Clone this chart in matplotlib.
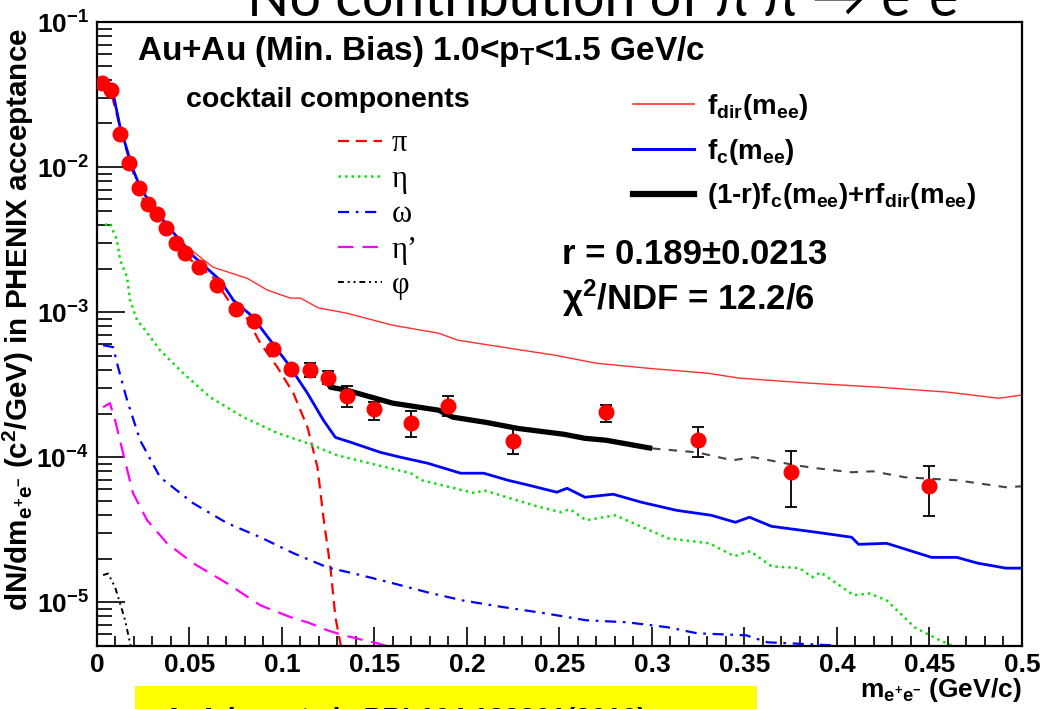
import numpy as np
import matplotlib

matplotlib.use("Agg")
import matplotlib.pyplot as plt
from matplotlib.lines import Line2D
from matplotlib.patches import Rectangle
from matplotlib.ticker import MultipleLocator, LogLocator, NullFormatter, FuncFormatter

plt.rcParams["font.family"] = ["Liberation Sans", "DejaVu Sans"]
plt.rcParams["font.weight"] = "bold"
plt.rcParams["axes.labelweight"] = "bold"
plt.rcParams["mathtext.fontset"] = "custom"
plt.rcParams["mathtext.rm"] = "Liberation Sans:bold"
plt.rcParams["mathtext.bf"] = "Liberation Sans:bold"
plt.rcParams["mathtext.it"] = "Liberation Sans:bold"
plt.rcParams["mathtext.default"] = "bf"

# --- measured e+e- pairs, Au+Au min. bias, 1.0 < pT < 1.5 GeV/c ---
data_m = [0.0025, 0.0075, 0.0125, 0.0175, 0.0225, 0.0275, 0.0325, 0.0375, 0.0425,
          0.0475, 0.055, 0.065, 0.075, 0.085, 0.095, 0.105, 0.115, 0.125, 0.135,
          0.15, 0.17, 0.19, 0.225, 0.275, 0.325, 0.375, 0.45]
data_y = [0.0380, 0.0340, 0.01689, 0.01066, 0.00716, 0.00556, 0.00474, 0.00380,
          0.00299, 0.00255, 0.00204, 0.00154, 0.00106, 0.000874, 0.000556,
          0.000405, 0.000398, 0.000350, 0.000263, 0.000214, 0.000172, 0.000225,
          0.000129, 0.000204, 0.000131, 7.88e-5, 6.31e-5]
data_lo = [0.0380, 0.0340, 0.01689, 0.01066, 0.00716, 0.00556, 0.00474, 0.00380,
           0.00299, 0.00255, 0.00204, 0.00154, 0.00106, 0.000874, 0.000556,
           0.000405, 0.000356, 0.000318, 0.000221, 0.000180, 0.000137, 0.000192,
           0.000105, 0.000174, 0.000100, 4.52e-5, 3.92e-5]
data_hi = [0.0380, 0.0340, 0.01689, 0.01066, 0.00716, 0.00556, 0.00474, 0.00380,
           0.00299, 0.00255, 0.00204, 0.00154, 0.00106, 0.000874, 0.000556,
           0.000405, 0.000445, 0.000392, 0.000309, 0.000239, 0.000207, 0.000264,
           0.000158, 0.000229, 0.000161, 1.10e-4, 8.67e-5]

# --- cocktail components ---
pi_m = [0.0027, 0.007, 0.0125, 0.0179, 0.0233, 0.0287, 0.0379, 0.0488, 0.0628,
        0.071, 0.0813, 0.0883, 0.0975, 0.1062, 0.1138, 0.1192, 0.1224, 0.1262,
        0.1289, 0.1316, 0.133]
pi_y = [0.0386, 0.0351, 0.0189, 0.01066, 0.00662, 0.00482, 0.00351, 0.00239,
        0.00174, 0.00121, 0.00090, 0.000611, 0.000418, 0.000276, 0.000161,
        8.53e-5, 3.86e-5, 1.74e-5, 7.88e-6, 5.21e-6, 3.0e-6]

eta_m = [0.0043, 0.007, 0.0108, 0.0125, 0.0163, 0.0179, 0.0217, 0.0249, 0.0341,
         0.0466, 0.0612, 0.0791, 0.0975, 0.1138, 0.13, 0.1517, 0.1696, 0.1755,
         0.2042, 0.2091, 0.2378, 0.2508, 0.2557, 0.2644, 0.2801, 0.3088, 0.331,
         0.3445, 0.3532, 0.3646, 0.3797, 0.3868, 0.3911, 0.409, 0.4177, 0.4269,
         0.442, 0.4556, 0.4642, 0.47]
eta_y = [0.00398, 0.00411, 0.00314, 0.00229, 0.00174, 0.00121, 0.000881, 0.000788,
         0.000547, 0.000380, 0.000259, 0.000189, 0.000147, 0.000125, 0.000103,
         8.81e-5, 7.76e-5, 6.94e-5, 5.65e-5, 5.92e-5, 4.59e-5, 4.18e-5, 4.38e-5,
         3.68e-5, 3.98e-5, 2.76e-5, 2.55e-5, 2.08e-5, 2.25e-5, 1.77e-5, 1.72e-5,
         1.49e-5, 1.61e-5, 1.12e-5, 1.15e-5, 1.03e-5, 6.72e-6, 5.47e-6, 4.9e-6, 3.0e-6]

omega_m = [0.0033, 0.0087, 0.0114, 0.0163, 0.0233, 0.0341, 0.052, 0.0704, 0.0883,
           0.1062, 0.1246, 0.1425, 0.1603, 0.1788, 0.1977, 0.2199, 0.2421, 0.2644,
           0.2866, 0.3088, 0.3245, 0.351, 0.3624, 0.3754, 0.3976, 0.41]
omega_y = [0.000592, 0.000574, 0.000418, 0.000247, 0.000131, 7.28e-5, 4.82e-5,
           3.51e-5, 2.81e-5, 2.18e-5, 1.74e-5, 1.54e-5, 1.35e-5, 1.17e-5, 1.03e-5,
           9.25e-6, 8.4e-6, 7.52e-6, 7.28e-6, 6.72e-6, 6.11e-6, 5.92e-6, 5.3e-6,
           5.21e-6, 5.05e-6, 4.0e-6]

etap_m = [0.0033, 0.007, 0.0098, 0.0141, 0.0195, 0.0271, 0.0379, 0.052, 0.0704,
          0.0883, 0.1062, 0.1138, 0.1246, 0.1333, 0.1517, 0.1587, 0.17]
etap_y = [0.000221, 0.000236, 0.000180, 0.000107, 5.65e-5, 3.68e-5, 2.55e-5,
          1.86e-5, 1.35e-5, 9.53e-6, 7.76e-6, 7.28e-6, 6.41e-6, 5.92e-6, 5.21e-6,
          4.9e-6, 3.5e-6]

phi_m = [0.0033, 0.006, 0.0098, 0.0125, 0.0152, 0.0179, 0.02]
phi_y = [1.54e-5, 1.58e-5, 1.27e-5, 9.84e-6, 7.52e-6, 5.21e-6, 3.5e-6]

# --- fit templates ---
fdir_m = [0.0033, 0.006, 0.0087, 0.0125, 0.0163, 0.019, 0.0233, 0.0287, 0.0341,
          0.0488, 0.0628, 0.0813, 0.0921, 0.1046, 0.11, 0.1197, 0.1349, 0.1598,
          0.1847, 0.195, 0.2226, 0.2476, 0.2698, 0.2974, 0.3299, 0.3472, 0.3852,
          0.4225, 0.4599, 0.4875, 0.4995]
fdir_y = [0.0368, 0.0386, 0.0324, 0.0189, 0.0131, 0.0100, 0.00735, 0.00575,
          0.00445, 0.00281, 0.00204, 0.00171, 0.00142, 0.00125, 0.00125, 0.00107,
          0.000985, 0.000813, 0.000716, 0.000641, 0.000565, 0.000505, 0.000445,
          0.000411, 0.000380, 0.000351, 0.000324, 0.000304, 0.000281, 0.000255,
          0.000268]

fc_m = [0.0033, 0.006, 0.0087, 0.0125, 0.0163, 0.019, 0.0233, 0.0287, 0.0358,
        0.0433, 0.0504, 0.0666, 0.0737, 0.0845, 0.0883, 0.103, 0.1138, 0.1224,
        0.1289, 0.137, 0.1533, 0.1641, 0.1788, 0.1966, 0.2091, 0.2221, 0.2335,
        0.2486, 0.2541, 0.2638, 0.279, 0.2942, 0.3131, 0.3321, 0.3451, 0.3527,
        0.3646, 0.3889, 0.4079, 0.4117, 0.4269, 0.4512, 0.4648, 0.4762, 0.4913,
        0.4995]
fc_y = [0.0368, 0.0386, 0.0324, 0.0189, 0.0131, 0.0100, 0.00728, 0.00565, 0.00431,
        0.00329, 0.00255, 0.00166, 0.00121, 0.000924, 0.000788, 0.000445,
        0.000276, 0.000180, 0.000137, 0.000127, 0.000108, 0.000100, 9.09e-5,
        7.76e-5, 7.76e-5, 6.94e-5, 6.41e-5, 5.74e-5, 6.11e-5, 5.30e-5, 5.56e-5,
        4.90e-5, 4.31e-5, 3.98e-5, 3.56e-5, 3.86e-5, 3.34e-5, 3.04e-5, 2.81e-5,
        2.51e-5, 2.55e-5, 2.04e-5, 2.04e-5, 1.86e-5, 1.72e-5, 1.72e-5]

# (1-r) f_c + r f_dir: fitted range and its extension
fit_m = [0.1235, 0.1262, 0.1349, 0.1598, 0.1847, 0.1923, 0.2102, 0.2275, 0.2524,
         0.2638, 0.2752, 0.3001]
fit_y = [0.000351, 0.000304, 0.000290, 0.000236, 0.000211, 0.000189, 0.000174,
         0.000158, 0.000144, 0.000135, 0.000131, 0.000115]
ext_m = [0.3001, 0.3245, 0.3434, 0.3548, 0.3776, 0.3889, 0.4079, 0.4193, 0.4366,
         0.4648, 0.4913, 0.4995]
ext_y = [0.000115, 0.000108, 9.53e-5, 1.0e-4, 8.81e-5, 8.40e-5, 7.88e-5, 8.0e-5,
         7.28e-5, 6.94e-5, 6.21e-5, 6.3e-5]

fig = plt.figure(figsize=(10.46, 7.09), dpi=100)
ax = fig.add_axes([0.0927, 0.0889, 0.8843, 0.880])

# cocktail components
l_pi, = ax.plot(pi_m, pi_y, color="#ff0000", lw=1.6, ls=(0, (5, 3)))
l_eta, = ax.plot(eta_m, eta_y, color="#11dd11", lw=1.8, ls=(0, (1, 1.6)))
l_om, = ax.plot(omega_m, omega_y, color="#0000ff", lw=1.6, ls=(0, (5, 3, 1.2, 3)))
l_etap, = ax.plot(etap_m, etap_y, color="#ff00ff", lw=1.6, ls=(0, (7, 4)))
l_phi, = ax.plot(phi_m, phi_y, color="black", lw=1.4, ls=(0, (3, 2, 1, 2, 1, 2)))

# templates and fit
l_fdir, = ax.plot(fdir_m, fdir_y, color="#ff3030", lw=1.0)
l_fc, = ax.plot(fc_m, fc_y, color="#0000ff", lw=2.0)
ax.plot(ext_m, ext_y, color="#444444", lw=1.5, ls=(0, (4, 4)))
l_fit, = ax.plot(fit_m, fit_y, color="black", lw=3.8, solid_capstyle="butt")

# data points
data_y = np.array(data_y)
yerr = [data_y - np.array(data_lo), np.array(data_hi) - data_y]
ax.errorbar(data_m, data_y, yerr=yerr, fmt="none", ecolor="black", elinewidth=1.3,
            capsize=4, capthick=1.3, zorder=4)
ax.plot(data_m, data_y, "o", color="#ff0000", ms=10.5, mec="#ff0000", zorder=5)

ax.set_yscale("log")
ax.set_xlim(0, 0.5)
ax.set_ylim(5e-6, 0.1)

ax.xaxis.set_major_locator(MultipleLocator(0.05))
ax.xaxis.set_minor_locator(MultipleLocator(0.01))
ax.xaxis.set_major_formatter(FuncFormatter(lambda v, p: f"{v:g}"))
ax.yaxis.set_major_locator(LogLocator(base=10, numticks=10))
ax.yaxis.set_minor_locator(LogLocator(base=10, subs=np.arange(2, 10), numticks=10))
ax.yaxis.set_minor_formatter(NullFormatter())

ax.tick_params(which="both", direction="in", top=False, right=False, width=1.2,
               labelsize=19)
ax.tick_params(axis="x", which="major", length=14, pad=5)
ax.tick_params(axis="x", which="minor", length=7)
ax.tick_params(axis="y", which="major", length=20, pad=6)
ax.tick_params(axis="y", which="minor", length=11)
for sp in ax.spines.values():
    sp.set_linewidth(1.6)

ax.set_xlabel(r"m$_{e^{+}e^{-}}$ (GeV/c)", fontsize=19, loc="right")
ax.xaxis.set_label_coords(1.0, -0.048)
ax.set_ylabel(r"dN/dm$_{e^{+}e^{-}}$ (c$^{2}$/GeV) in PHENIX acceptance",
              fontsize=21.3, loc="top", labelpad=2)
ax.yaxis.set_label_coords(-0.066, 0.99)

ax.text(0.043, 0.952, r"Au+Au (Min. Bias) 1.0<p$_{T}$<1.5 GeV/c",
        transform=ax.transAxes, fontsize=24, va="center", ha="left")
ax.text(0.25, 0.875, "cocktail components", transform=ax.transAxes, fontsize=20.5,
        va="center", ha="center")

leg1 = ax.legend([l_pi, l_eta, l_om, l_etap, l_phi],
                 ["\u03c0", "\u03b7", "\u03c9", "\u03b7\u2019", "\u03c6"],
                 loc="upper left", bbox_to_anchor=(0.2605, 0.828), frameon=False,
                 prop={"family": "Liberation Serif", "size": 22, "weight": "normal"},
                 handlelength=1.45, handletextpad=0.3, labelspacing=0.21,
                 borderpad=0, borderaxespad=0)
ax.add_artist(leg1)

h_fdir = Line2D([], [], color="#ff3030", lw=1.2)
h_fc = Line2D([], [], color="#0000ff", lw=2.2)
h_fit = Line2D([], [], color="black", lw=4.5)
ax.legend([h_fdir, h_fc, h_fit],
          [r"f$_{dir}$(m$_{ee}$)", r"f$_{c}$(m$_{ee}$)",
           r"(1-r)f$_{c}$(m$_{ee}$)+rf$_{dir}$(m$_{ee}$)"],
          loc="upper left", bbox_to_anchor=(0.5795, 0.888), frameon=False,
          fontsize=20, handlelength=2.2, handletextpad=0.45, labelspacing=0.53,
          borderpad=0, borderaxespad=0)

ax.text(0.503, 0.628, "r = 0.189\u00b10.0213", transform=ax.transAxes,
        fontsize=25, va="center", ha="left")
ax.text(0.503, 0.558, r"$\chi^{2}$/NDF = 12.2/6", transform=ax.transAxes,
        fontsize=25, va="center", ha="left")

# slide heading and citation strip (cut by the figure border)
fig.text(0.585, 1 - 16 / 709, "No contribution of \u03c0 \u03c0 \u2192 e\u207ae\u207b",
         ha="center", va="baseline", fontsize=40, fontweight="normal",
         family=["Lato", "DejaVu Sans"])
fig.patches.append(Rectangle((135 / 1046, 0), 622 / 1046, 23 / 709,
                             transform=fig.transFigure, facecolor="#ffff00",
                             edgecolor="none", zorder=0))
fig.text(164 / 1046, -0.026, "A. Adare et al., PRL104 132301(2010)", ha="left",
         va="baseline", fontsize=20)

fig.savefig("out.png", dpi=100)
